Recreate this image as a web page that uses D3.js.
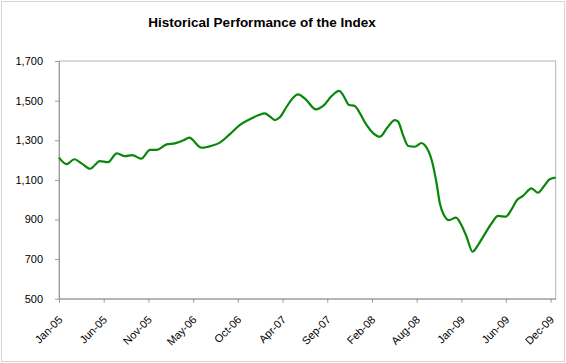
<!DOCTYPE html>
<html>
<head>
<meta charset="utf-8">
<script src="https://cdn.jsdelivr.net/npm/d3@7"></script>
<style>
  body { margin: 0; background: #fff; }
  svg { font-family: "Liberation Sans", Arial, sans-serif; }
  .axis path, .axis line { stroke: #9a9a9a; }
  .axis text { fill: #000; font-size: 11px; }
</style>
</head>
<body>
<div id="chart"></div>
<script>
// index level
const dates = [
  '2005-01-03', '2005-01-31', '2005-02-28', '2005-03-27', '2005-04-27', '2005-06-02',
  '2005-07-01', '2005-08-03', '2005-09-02', '2005-09-29', '2005-10-31', '2005-12-03',
  '2005-12-27', '2006-02-02', '2006-03-04', '2006-04-07', '2006-04-25', '2006-06-10',
  '2006-07-17', '2006-08-16', '2006-09-22', '2006-10-29', '2006-12-04', '2007-01-04',
  '2007-01-28', '2007-02-16', '2007-03-06', '2007-03-24', '2007-04-18', '2007-05-10',
  '2007-05-30', '2007-06-28', '2007-08-03', '2007-08-30', '2007-09-30', '2007-10-28',
  '2007-11-11', '2007-12-03', '2007-12-24', '2008-01-12', '2008-02-05', '2008-03-01',
  '2008-03-25', '2008-04-21', '2008-05-19', '2008-05-31', '2008-06-18', '2008-07-07',
  '2008-07-31', '2008-08-25', '2008-09-06', '2008-10-01', '2008-10-19', '2008-10-31',
  '2008-11-15', '2008-12-04', '2008-12-29', '2009-01-18', '2009-02-06', '2009-02-28',
  '2009-03-20', '2009-04-10', '2009-05-09', '2009-06-02', '2009-06-30', '2009-07-21',
  '2009-08-10', '2009-09-01', '2009-10-02', '2009-10-26', '2009-11-16', '2009-12-08',
  '2009-12-30'
];
const values = [
  1212, 1179, 1204, 1183, 1156, 1195,
  1189, 1234, 1220, 1225, 1207, 1251,
  1251, 1279, 1284, 1301, 1313, 1262,
  1272, 1288, 1331, 1377, 1406, 1426,
  1436, 1419, 1402, 1416, 1469, 1512,
  1532, 1505, 1456, 1473, 1523, 1549,
  1528, 1478, 1473, 1436, 1377, 1335,
  1318, 1363, 1402, 1394, 1326, 1271,
  1267, 1286, 1275, 1200, 1083, 982,
  923, 897, 909, 872, 813, 737,
  771, 817, 881, 918, 914, 951,
  998, 1019, 1057, 1035, 1066, 1103,
  1111
];
const tickDates = [
  '2005-01-03', '2005-06-16', '2005-11-27', '2006-05-10', '2006-10-21', '2007-04-03',
  '2007-09-14', '2008-02-25', '2008-08-07', '2009-01-18', '2009-06-30', '2009-12-11'
];
const tickLabels = ['Jan-05', 'Jun-05', 'Nov-05', 'May-06', 'Oct-06', 'Apr-07',
  'Sep-07', 'Feb-08', 'Aug-08', 'Jan-09', 'Jun-09', 'Dec-09'];
const yTicks = [500, 700, 900, 1100, 1300, 1500, 1700];

const width = 566, height = 363;
const margins = { top: 61, right: 10, bottom: 64, left: 59 };
const parse = d3.timeParse('%Y-%m-%d');
const data = dates.map(function(d, i) { return { date: parse(d), value: values[i] }; });

const svg = d3.select('#chart').append('svg')
  .attr('width', width)
  .attr('height', height);

// outer chart border
svg.append('rect')
  .attr('x', 1.5).attr('y', 1.5)
  .attr('width', width - 3).attr('height', height - 3)
  .attr('fill', '#fff')
  .attr('stroke', '#d4d4d4');

const xScale = d3.scaleTime()
  .domain([parse('2005-01-03'), parse('2009-12-30')])
  .range([margins.left, width - margins.right - 0.3]);

const yScale = d3.scaleLinear()
  .domain([500, 1700])
  .range([height - margins.bottom - 0.3, margins.top]);

// plot area frame
svg.append('rect')
  .attr('x', xScale.range()[0]).attr('y', yScale.range()[1])
  .attr('width', xScale.range()[1] - xScale.range()[0])
  .attr('height', yScale.range()[0] - yScale.range()[1])
  .attr('fill', 'none')
  .attr('stroke', '#b3b3b3');

const yAxis = d3.axisLeft(yScale)
  .tickValues(yTicks)
  .tickFormat(d3.format(','))
  .tickSizeInner(4)
  .tickSizeOuter(0)
  .tickPadding(12);

svg.append('g')
  .attr('class', 'axis')
  .attr('transform', 'translate(' + margins.left + ',0)')
  .call(yAxis);

const xAxis = d3.axisBottom(xScale)
  .tickValues(tickDates.map(parse))
  .tickFormat(function(d, i) { return tickLabels[i]; })
  .tickSizeInner(4)
  .tickSizeOuter(0);

const xg = svg.append('g')
  .attr('class', 'axis')
  .attr('transform', 'translate(0,' + yScale.range()[0] + ')')
  .call(xAxis);

xg.selectAll('text')
  .attr('text-anchor', 'end')
  .attr('x', 0).attr('y', 0).attr('dy', '0.35em')
  .attr('transform', 'translate(1,19) rotate(-45)');

const line = d3.line()
  .x(function(d) { return xScale(d.date); })
  .y(function(d) { return yScale(d.value); })
  .curve(d3.curveMonotoneX);

svg.append('path')
  .datum(data)
  .attr('d', line)
  .attr('fill', 'none')
  .attr('stroke', '#0a870a')
  .attr('stroke-width', 2.2)
  .attr('stroke-linejoin', 'round');

svg.append('text')
  .text('Historical Performance of the Index')
  .attr('x', 262)
  .attr('y', 26.5)
  .attr('text-anchor', 'middle')
  .style('font-weight', 'bold')
  .style('font-size', '13.5px');
</script>
</body>
</html>
